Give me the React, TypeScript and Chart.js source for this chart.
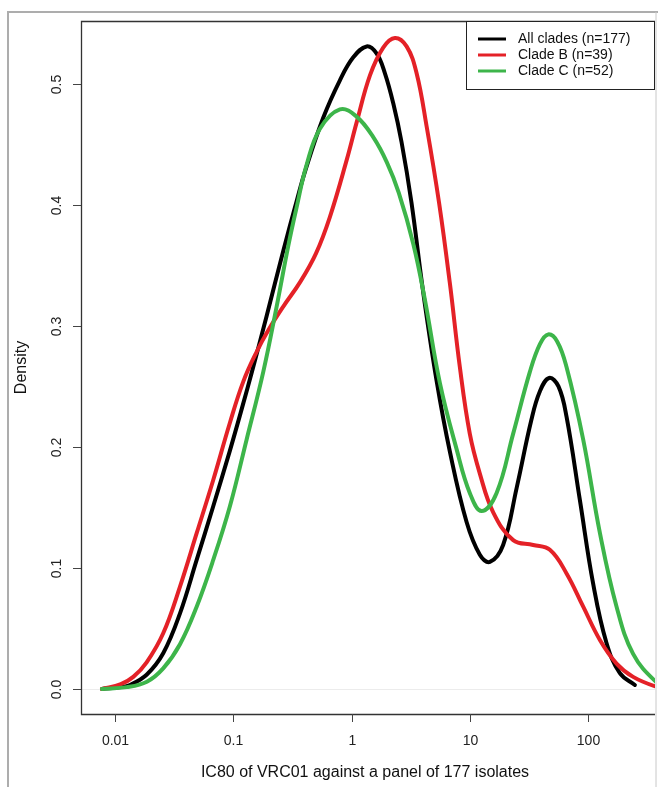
import React, { useEffect, useRef } from "react";
import { Chart, registerables } from "chart.js";

Chart.register(...registerables);

// x values are log10(IC80)
const xTickValues = [-2, -1, 0, 1, 2];
const xTickLabels = ["0.01", "0.1", "1", "10", "100"];
const yTickValues = [0, 0.1, 0.2, 0.3, 0.4, 0.5];
const yTickLabels = ["0.0", "0.1", "0.2", "0.3", "0.4", "0.5"];

const seriesNames = ["All clades (n=177)", "Clade B (n=39)", "Clade C (n=52)"];
const seriesColors = ["#000000", "#e42127", "#3db54a"];

const allLogX = [-2.11, -1.95, -1.873, -1.73, -1.592, -1.45, -1.309, -1.169, -1.028, -0.915, -0.845, -0.718, -0.577, -0.464, -0.392, -0.239, -0.098, 0.015, 0.128, 0.213, 0.282, 0.353, 0.423, 0.507, 0.606, 0.719, 0.832, 0.973, 1.085, 1.17, 1.282, 1.396, 1.52, 1.593, 1.671, 1.75, 1.818, 1.931, 2.043, 2.156, 2.269, 2.396];
const allDensity = [0.0, 0.0015, 0.0033, 0.012, 0.0295, 0.0625, 0.1066, 0.151, 0.197, 0.236, 0.261, 0.308, 0.362, 0.403, 0.428, 0.472, 0.503, 0.522, 0.531, 0.525, 0.509, 0.484, 0.452, 0.402, 0.328, 0.255, 0.196, 0.138, 0.111, 0.105, 0.119, 0.166, 0.222, 0.246, 0.257, 0.25, 0.225, 0.156, 0.087, 0.038, 0.013, 0.0033];

const cladeBLogX = [-2.11, -1.95, -1.845, -1.732, -1.592, -1.45, -1.309, -1.169, -1.028, -0.915, -0.8, -0.7, -0.577, -0.436, -0.3, -0.183, -0.041, 0.043, 0.156, 0.268, 0.367, 0.466, 0.55, 0.635, 0.74, 0.832, 0.916, 1.0, 1.085, 1.198, 1.367, 1.536, 1.677, 1.818, 1.959, 2.1, 2.241, 2.381, 2.573, 2.65];
const cladeBDensity = [0.0, 0.004, 0.01, 0.022, 0.046, 0.0846, 0.1287, 0.1727, 0.22, 0.254, 0.279, 0.297, 0.316, 0.336, 0.36, 0.39, 0.437, 0.468, 0.507, 0.53, 0.538, 0.531, 0.509, 0.465, 0.402, 0.335, 0.266, 0.211, 0.178, 0.146, 0.123, 0.119, 0.115, 0.0955, 0.068, 0.0405, 0.021, 0.01, 0.002, 0.0012];

const cladeCLogX = [-2.11, -1.9, -1.73, -1.592, -1.45, -1.309, -1.169, -1.028, -0.887, -0.746, -0.633, -0.535, -0.464, -0.38, -0.267, -0.098, 0.043, 0.184, 0.3, 0.4, 0.522, 0.62, 0.747, 0.889, 1.0, 1.1, 1.227, 1.367, 1.508, 1.593, 1.663, 1.74, 1.818, 1.959, 2.1, 2.241, 2.381, 2.573, 2.65];
const cladeCDensity = [0.0, 0.0015, 0.006, 0.017, 0.037, 0.068, 0.1066, 0.151, 0.206, 0.262, 0.316, 0.366, 0.398, 0.433, 0.463, 0.479, 0.473, 0.456, 0.435, 0.41, 0.368, 0.322, 0.253, 0.198, 0.162, 0.147, 0.162, 0.211, 0.262, 0.285, 0.293, 0.287, 0.266, 0.206, 0.129, 0.068, 0.029, 0.006, 0.004];

const xTitle = "IC80 of VRC01 against a panel of 177 isolates";
const yTitle = "Density";

const FAMILY = '"Liberation Sans", Arial, Helvetica, sans-serif';
const TICK_FONT = "14px " + FAMILY;
const TITLE_FONT = "16px " + FAMILY;

const rPlugin = {
  id: "rStyle",
  beforeDatasetsDraw(chart: any) {
    const ctx = chart.ctx;
    const { left, right } = chart.chartArea;
    const y0 = Math.round(chart.scales.y.getPixelForValue(0)) + 0.5;
    ctx.save();
    ctx.strokeStyle = "#ececec";
    ctx.lineWidth = 1;
    ctx.beginPath();
    ctx.moveTo(left, y0);
    ctx.lineTo(right, y0);
    ctx.stroke();
    ctx.restore();
  },
  afterDraw(chart: any) {
    const ctx = chart.ctx;
    const { left, right, top, bottom } = chart.chartArea;
    const xs = chart.scales.x;
    const ys = chart.scales.y;
    ctx.save();
    // outer frame
    ctx.strokeStyle = "#adadad";
    ctx.lineWidth = 2;
    ctx.beginPath();
    ctx.moveTo(8, 800);
    ctx.lineTo(8, 12);
    ctx.lineTo(660, 12);
    ctx.stroke();
    ctx.beginPath();
    ctx.moveTo(656, 12);
    ctx.lineTo(656, 800);
    ctx.strokeStyle = "#c8c8c8";
    ctx.lineWidth = 1;
    ctx.stroke();

    // plot box
    ctx.strokeStyle = "#333333";
    ctx.lineWidth = 1.3;
    ctx.beginPath();
    ctx.moveTo(right, top + 0.5);
    ctx.lineTo(left + 0.5, top + 0.5);
    ctx.lineTo(left + 0.5, bottom + 0.5);
    ctx.lineTo(right, bottom + 0.5);
    ctx.stroke();

    // ticks
    ctx.strokeStyle = "#444444";
    ctx.lineWidth = 1;
    ctx.fillStyle = "#222222";
    ctx.font = TICK_FONT;
    ctx.textAlign = "center";
    ctx.textBaseline = "middle";
    xTickValues.forEach((v, i) => {
      const px = Math.round(xs.getPixelForValue(v)) + 0.5;
      ctx.beginPath();
      ctx.moveTo(px, bottom);
      ctx.lineTo(px, bottom + 8);
      ctx.stroke();
      ctx.fillText(xTickLabels[i], px, 741);
    });
    yTickValues.forEach((v, i) => {
      const py = Math.round(ys.getPixelForValue(v)) + 0.5;
      ctx.beginPath();
      ctx.moveTo(left - 8, py);
      ctx.lineTo(left, py);
      ctx.stroke();
      ctx.save();
      ctx.translate(57, py);
      ctx.rotate(-Math.PI / 2);
      ctx.fillText(yTickLabels[i], 0, 0);
      ctx.restore();
    });

    // titles
    ctx.fillStyle = "#111111";
    ctx.font = TITLE_FONT;
    ctx.fillText(xTitle, (left + right) / 2 - 3, 773);
    ctx.save();
    ctx.translate(22, (top + bottom) / 2);
    ctx.rotate(-Math.PI / 2);
    ctx.fillText(yTitle, 0, 0);
    ctx.restore();

    // legend
    ctx.font = TICK_FONT;
    const lx = 466.5;
    const ly = top + 0.5;
    ctx.fillStyle = "#ffffff";
    ctx.fillRect(lx, ly, right - lx, 68);
    ctx.strokeStyle = "#222222";
    ctx.lineWidth = 1;
    ctx.strokeRect(lx, ly, right - lx - 0.5, 68);
    ctx.textAlign = "left";
    seriesNames.forEach((name, i) => {
      const rowY = 39 + i * 16;
      ctx.strokeStyle = seriesColors[i];
      ctx.lineWidth = 3;
      ctx.beginPath();
      ctx.moveTo(478, rowY);
      ctx.lineTo(506, rowY);
      ctx.stroke();
      ctx.fillStyle = "#111111";
      ctx.fillText(name, 518, rowY + 0.5);
    });
    ctx.restore();
  },
};

export default function App() {
  const canvasRef = useRef<HTMLCanvasElement | null>(null);

  useEffect(() => {
    const canvas = canvasRef.current;
    if (!canvas) return;
    const mk = (xs: number[], ys: number[]) => xs.map((x, i) => ({ x, y: ys[i] }));
    const chart = new Chart(canvas, {
      type: "line",
      data: {
        datasets: [
          {
            label: seriesNames[0],
            data: mk(allLogX, allDensity),
            borderColor: seriesColors[0],
            order: 3,
          },
          {
            label: seriesNames[1],
            data: mk(cladeBLogX, cladeBDensity),
            borderColor: seriesColors[1],
            order: 2,
          },
          {
            label: seriesNames[2],
            data: mk(cladeCLogX, cladeCDensity),
            borderColor: seriesColors[2],
            order: 1,
          },
        ].map((d) => ({
          ...d,
          borderWidth: 4,
          pointRadius: 0,
          fill: false,
          tension: 0.4,
          borderCapStyle: "round" as const,
          borderJoinStyle: "round" as const,
        })),
      },
      options: {
        animation: false,
        responsive: false,
        devicePixelRatio: 1,
        layout: { padding: { left: 81, top: 21, right: 3, bottom: 73 } },
        plugins: { legend: { display: false }, tooltip: { enabled: false } },
        scales: {
          x: { type: "linear", min: -2.287, max: 2.566, display: false },
          y: { type: "linear", min: -0.0207, max: 0.552, display: false },
        },
      },
      plugins: [rPlugin],
    });
    return () => chart.destroy();
  }, []);

  return (
    <div style={{ position: "fixed", left: 0, top: 0, width: 658, height: 787, background: "#fff" }}>
      <canvas ref={canvasRef} width={658} height={787} style={{ display: "block", width: 658, height: 787 }} />
    </div>
  );
}
